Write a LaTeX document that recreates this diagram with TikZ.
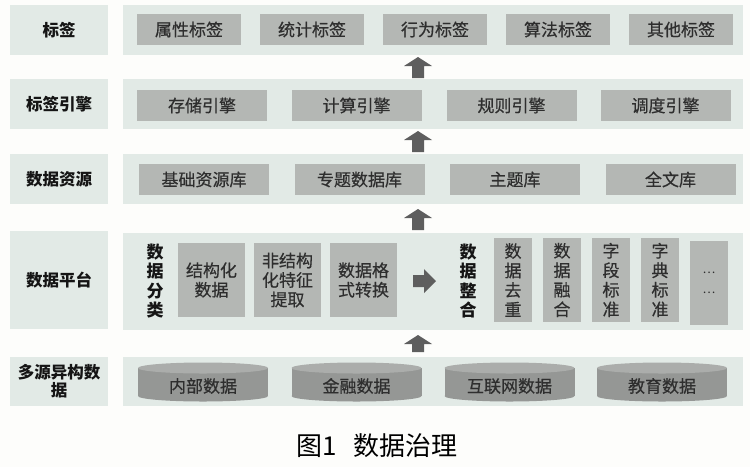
\documentclass[tikz,border=0pt]{standalone}
\usepackage{fontspec}
\setmainfont{Noto Sans CJK SC}
\newfontfamily\medfont{Noto Sans CJK SC}[FakeBold=0.5]
\definecolor{bgc}{HTML}{FDFDFB}
\definecolor{panelc}{HTML}{E2EAE6}
\definecolor{boxc}{HTML}{B4B7B4}
\definecolor{txtc}{HTML}{2E2E2E}
\definecolor{lblc}{HTML}{151515}
\definecolor{arrc}{HTML}{5E5E5E}
\definecolor{cylbody}{HTML}{959795}
\definecolor{cyltop}{HTML}{ABADAB}
\tikzset{
  lbl/.style={rectangle, fill=panelc, inner sep=0pt, minimum width=98pt, text=lblc, align=center, font=\fontsize{16.5}{18}\selectfont\bfseries},
  panel/.style={rectangle, fill=panelc, inner sep=0pt, minimum width=620pt},
  ibox/.style={rectangle, fill=boxc, inner sep=0pt, text=txtc, align=center, font=\medfont\fontsize{17}{19.5}\selectfont},
  vtxt/.style={inner sep=0pt, text=lblc, align=center, font=\fontsize{17}{19.5}\selectfont\bfseries},
  ctext/.style={inner sep=0pt, text=txtc, font=\medfont\fontsize{17}{19.5}\selectfont},
  pics/uparr/.style={code={\fill[arrc] (-6,0) -- (-6,-#1) -- (-14,-#1) -- (0,-#1-9) -- (14,-#1) -- (6,-#1) -- (6,0) -- cycle;}}
}
\newcommand{\mycyl}[3]{%
  \fill[cylbody] (#2-65,368) rectangle (#2+65,396);
  \fill[cylbody] (#2,396) ellipse[x radius=65, y radius=5.5];
  \fill[cyltop] (#2,368) ellipse[x radius=65, y radius=5.5];
  \node[ctext] (#1) at (#2,386) {#3};}
\begin{document}
\begin{tikzpicture}[x=1pt,y=-1pt]
\fill[bgc] (0,0) rectangle (750,467);
\useasboundingbox (0,0) rectangle (750,467);
% left labels
\node[lbl, minimum height=50pt] (L1) at (59,30) {标签};
\node[lbl, minimum height=50pt] (L2) at (59,104) {标签引擎};
\node[lbl, minimum height=50pt] (L3) at (59,179) {数据资源};
\node[lbl, minimum height=98pt] (L4) at (59,280) {数据平台};
\node[lbl, minimum height=49pt] (L5) at (59,381.5) {多源异构数\\据};
% panels
\node[panel, minimum height=50pt] (P1) at (432.5,30) {};
\node[panel, minimum height=50pt] (P2) at (432.5,104) {};
\node[panel, minimum height=50pt] (P3) at (432.5,179) {};
\node[panel, minimum height=97pt] (P4) at (433,281.5) {};
\node[panel, minimum height=49pt] (P5) at (433,381.5) {};
% row 1
\foreach \n/\x/\t in {a/189/属性标签, b/312/统计标签, c/435/行为标签, d/558/算法标签, e/681/其他标签}
  \node[ibox, minimum width=104pt, minimum height=31pt] (r1\n) at (\x,29.5) {\t};
% row 2
\foreach \n/\x/\t in {a/202/存储引擎, b/356.5/计算引擎, c/511.5/规则引擎, d/665.5/调度引擎}
  \node[ibox, minimum width=130pt, minimum height=31pt] (r2\n) at (\x,105.5) {\t};
% row 3
\foreach \n/\x/\t in {a/204/基础资源库, b/359.5/专题数据库, c/515/主题库, d/670.5/全文库}
  \node[ibox, minimum width=130pt, minimum height=31pt] (r3\n) at (\x,179.5) {\t};
% row 4
\node[vtxt] (fl) at (155,281) {数\\据\\分\\类};
\node[ibox, minimum width=67pt, minimum height=74pt] (r4a) at (211.5,280) {结构化\\数据};
\node[ibox, minimum width=67pt, minimum height=74pt] (r4b) at (287.5,280) {非结构\\化特征\\提取};
\node[ibox, minimum width=67pt, minimum height=74pt] (r4c) at (363.5,280) {数据格\\式转换};
\fill[arrc] (413,275) -- (424,275) -- (424,269) -- (436,281) -- (424,293) -- (424,287) -- (413,287) -- cycle;
\node[vtxt] (zh) at (468,281) {数\\据\\整\\合};
\node[ibox, minimum width=38pt, minimum height=84pt] (r4d) at (513,280) {数\\据\\去\\重};
\node[ibox, minimum width=38pt, minimum height=84pt] (r4e) at (562,280) {数\\据\\融\\合};
\node[ibox, minimum width=38pt, minimum height=84pt] (r4f) at (611,280) {字\\段\\标\\准};
\node[ibox, minimum width=38pt, minimum height=84pt] (r4g) at (660,280) {字\\典\\标\\准};
\node[ibox, minimum width=38pt, minimum height=84pt, font=\fontsize{12}{20}\selectfont] (r4h) at (709,283) {…\\…};
% row 5
\mycyl{c1}{203}{内部数据}
\mycyl{c2}{356.5}{金融数据}
\mycyl{c3}{509.5}{互联网数据}
\mycyl{c4}{662}{教育数据}
% up arrows
\pic at (418,78) {uparr=12};
\pic at (418,152) {uparr=12};
\pic at (418,230) {uparr=12};
\pic at (418,352) {uparr=8};
% caption
\node[inner sep=0pt, text=black, font=\fontsize{26}{28}\selectfont] (cap) at (377,446) {图1\hspace{0.6em}数据治理};
\end{tikzpicture}
\end{document}
